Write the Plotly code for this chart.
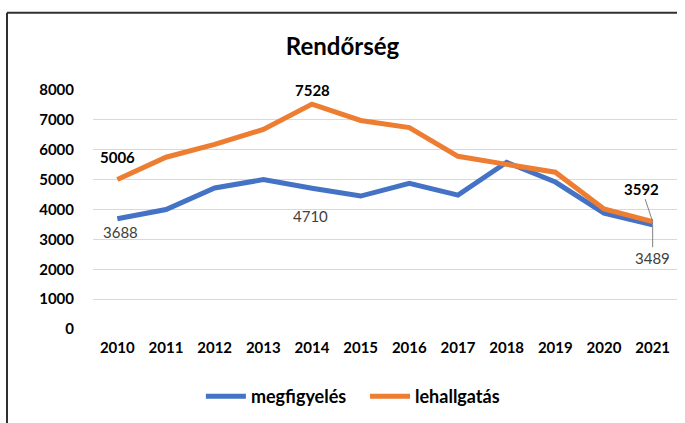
import plotly.graph_objects as go

years = [str(y) for y in range(2010, 2022)]
megfigyeles = [3688, 4000, 4720, 5000, 4710, 4450, 4880, 4480, 5580, 4920, 3880, 3489]
lehallgatas = [5006, 5750, 6180, 6680, 7528, 6980, 6740, 5780, 5510, 5250, 4020, 3592]
y_ticks = [0, 1000, 2000, 3000, 4000, 5000, 6000, 7000, 8000]

FONT = "Lato, Liberation Sans, sans-serif"
BLUE = "#4472C4"
ORANGE = "#ED7D31"

fig = go.Figure()
fig.add_trace(go.Scatter(x=years, y=megfigyeles, mode="lines",
                         name="<b>megfigyelés</b>&nbsp;&nbsp;&nbsp;",
                         line=dict(color=BLUE, width=5)))
fig.add_trace(go.Scatter(x=years, y=lehallgatas, mode="lines", name="<b>lehallgatás</b>",
                         line=dict(color=ORANGE, width=5)))

bold = dict(family=FONT, size=15, color="#000000")
gray = dict(family=FONT, size=15, color="#404040")

ann = [
    dict(x=0, y=lehallgatas[0], text=f"<b>{lehallgatas[0]}</b>", showarrow=False,
         yshift=22, font=bold),
    dict(x=4, y=lehallgatas[4], text=f"<b>{lehallgatas[4]}</b>", showarrow=False,
         yshift=14, font=bold),
    dict(x=11, y=lehallgatas[11], text=f"<b>{lehallgatas[11]}</b>", showarrow=True,
         arrowhead=0, arrowwidth=1, arrowcolor="#808080", ax=-11, ay=-33, font=bold),
    dict(x=0, y=megfigyeles[0], text=str(megfigyeles[0]), showarrow=False,
         xshift=3, yshift=-13, font=gray),
    dict(x=4, y=megfigyeles[4], text=str(megfigyeles[4]), showarrow=False,
         xshift=-2, yshift=-28, font=gray),
    dict(x=11, y=megfigyeles[11], text=str(megfigyeles[11]), showarrow=True,
         arrowhead=0, arrowwidth=1, arrowcolor="#808080", ax=0, ay=33, font=gray),
]

x_left = (7 - 93) / 584
y_top = 1 + (90 - 12) / 241
fig.update_layout(
    width=685, height=423,
    margin=dict(l=93, r=8, t=90, b=92),
    paper_bgcolor="white", plot_bgcolor="white",
    title=dict(text="<b>Rendőrség</b>", x=0.5, xanchor="center", y=1 - 47 / 423, yanchor="middle",
               font=dict(family=FONT, size=24, color="#000000")),
    xaxis=dict(type="category", range=[-0.5, 11.5], showgrid=False, showline=False, ticks="",
               tickfont=dict(family=FONT, size=15, color="#000000"), ticklabelstandoff=8,
               tickprefix="<b>", ticksuffix="</b>"),
    yaxis=dict(range=[0, 8000], tickvals=y_ticks, ticktext=[f"<b>{v}</b>" for v in y_ticks],
               showgrid=True, gridcolor="#D9D9D9", gridwidth=1, zeroline=False, showline=False,
               tickfont=dict(family=FONT, size=15, color="#000000"), ticklabelstandoff=18),
    showlegend=True,
    legend=dict(orientation="h", x=0.445, xanchor="center", y=-0.283, yanchor="middle",
                font=dict(family=FONT, size=18, color="#000000"), itemwidth=40,
                traceorder="normal"),
    annotations=ann,
    shapes=[
        dict(type="line", xref="paper", yref="paper", x0=x_left, x1=1.0, y0=y_top, y1=y_top,
             line=dict(color="#303030", width=2)),
        dict(type="line", xref="paper", yref="paper", x0=x_left, x1=x_left, y0=y_top, y1=-0.5,
             line=dict(color="#303030", width=2)),
    ],
)

fig.write_html("out.html", config={"displayModeBar": False},
               post_script="document.body.style.margin='0';")
